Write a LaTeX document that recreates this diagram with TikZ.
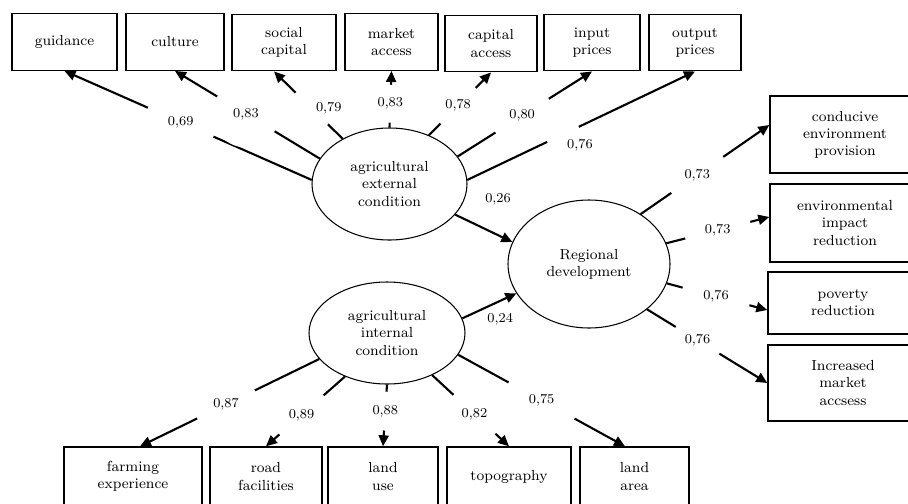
\documentclass[tikz,border=0pt]{standalone}
\usepackage{tikz}
\usetikzlibrary{arrows.meta}
\usetikzlibrary{shapes.geometric}

\newcommand{\boxfont}{\fontsize{8.3}{9.7}\selectfont}
\newcommand{\coeffont}{\fontsize{7.7}{9}\selectfont}

\tikzset{
  indicator/.style={draw, line width=0.8pt, rectangle, align=center, font=\boxfont, inner sep=1pt},
  latent/.style={draw, line width=0.6pt, ellipse, align=center, font=\boxfont, inner sep=0pt},
  loading/.style={line width=1.2pt, -{Triangle[length=2.2mm,width=2mm]}},
  gap/.style={circle, fill=white, inner sep=0pt, font=\coeffont},
  coef/.style={inner sep=1pt, font=\coeffont},
}

\begin{document}
\begin{tikzpicture}
\useasboundingbox (0,0) rectangle (18.16,10.06);
\clip (0,0) rectangle (18.16,10.06);

% latent variables
\node[latent, minimum width=3.10cm, minimum height=2.24cm] (ext) at (7.79,6.38) {agricultural\\external\\condition};
\node[latent, minimum width=3.12cm, minimum height=2.04cm] (int) at (7.74,3.40) {agricultural\\internal\\condition};
\node[latent, minimum width=3.24cm, minimum height=2.56cm] (reg) at (11.78,4.78) {Regional\\development};

% external indicators
\node[indicator, minimum width=2.10cm, minimum height=1.13cm] (guidance) at (1.29,9.22) {guidance};
\node[indicator, minimum width=1.96cm, minimum height=1.13cm] (culture) at (3.50,9.22) {culture};
\node[indicator, minimum width=2.08cm, minimum height=1.13cm] (social) at (5.68,9.21) {social\\capital};
\node[indicator, minimum width=1.86cm, minimum height=1.13cm] (market) at (7.83,9.22) {market\\access};
\node[indicator, minimum width=1.84cm, minimum height=1.13cm] (capital) at (9.82,9.19) {capital\\access};
\node[indicator, minimum width=1.92cm, minimum height=1.13cm] (input) at (11.84,9.21) {input\\prices};
\node[indicator, minimum width=1.84cm, minimum height=1.13cm] (output) at (13.90,9.21) {output\\prices};

% outcome indicators
\node[indicator, minimum width=3cm, minimum height=1.54cm] (conducive) at (16.90,7.37) {conducive\\environment\\provision};
\node[indicator, minimum width=3cm, minimum height=1.56cm] (impact) at (16.90,5.60) {environmental\\impact\\reduction};
\node[indicator, minimum width=3cm, minimum height=1.24cm] (poverty) at (16.86,4.00) {poverty\\reduction};
\node[indicator, minimum width=3cm, minimum height=1.52cm] (access) at (16.86,2.40) {Increased\\market\\accsess};

% internal indicators
\node[indicator, minimum width=2.76cm, minimum height=1.18cm] (farming) at (2.66,0.53) {farming\\experience};
\node[indicator, minimum width=2.24cm, minimum height=1.18cm] (road) at (5.32,0.53) {road\\facilities};
\node[indicator, minimum width=2.20cm, minimum height=1.18cm] (landuse) at (7.66,0.53) {land\\use};
\node[indicator, minimum width=2.48cm, minimum height=1.18cm] (topography) at (10.18,0.53) {topography};
\node[indicator, minimum width=2.18cm, minimum height=1.18cm] (landarea) at (12.69,0.53) {land\\area};

% loadings
\draw[loading] (ext.177) -- node[gap, pos=.53, minimum size=1.43cm] {0,69} (guidance.south);
\draw[loading] (ext.160) -- node[gap, pos=.51, minimum size=1.34cm] {0,83} (culture.south);
\draw[loading] (ext.136) -- node[gap, pos=.45, minimum size=.9cm] {} node[coef, pos=.45, xshift=.34cm] {0,79} ([xshift=-.2cm]social.south);
\draw[loading] (ext.90) -- node[gap, pos=.42, minimum size=.76cm] {0,83} (market.south);
\draw[loading] (ext.51) -- node[gap, pos=.47, minimum size=1cm] {0,78} (capital.south);
\draw[loading] (ext.22) -- node[gap, pos=.48, minimum size=1.26cm] {0,80} (input.south);
\draw[loading] (ext.3) -- node[gap, pos=.42, minimum size=.7cm] {} node[coef, pos=.42, xshift=.34cm, yshift=-.22cm] {0,76} (output.south);

\draw[loading] (reg.44) -- node[gap, pos=.44, minimum size=1.26cm] {0,73} ([yshift=.19cm]conducive.west);
\draw[loading] (reg.15) -- node[gap, pos=.5, minimum size=1.34cm] {0,73} ([yshift=.12cm]impact.west);
\draw[loading] (reg.-14) -- node[gap, pos=.49, minimum size=1.38cm] {0,76} ([yshift=-.14cm]poverty.west);
\draw[loading] (reg.-38) -- node[gap, pos=.42, minimum size=1.02cm] {0,76} (access.west);

\draw[loading] (int.201) -- node[gap, pos=.52, minimum size=1.28cm] {0,87} ([xshift=.14cm]farming.north);
\draw[loading] (int.226) -- node[gap, pos=.55, minimum size=1.18cm] {0,89} (road.north);
\draw[loading] (int.270) -- node[gap, pos=.43, minimum size=.78cm] {0,88} (landuse.north);
\draw[loading] (int.317) -- node[gap, pos=.55, minimum size=1.14cm] {0,82} (topography.north);
\draw[loading] (int.343) -- node[gap, pos=.5, minimum size=1.5cm] {0,75} ([xshift=-.19cm]landarea.north);

% structural paths
\draw[loading] (ext.-25) -- node[coef, pos=.75, above=.55cm] {0,26} (reg.164);
\draw[loading] (int.11) -- node[coef, pos=.7, below=.2cm] {0,24} (reg.202);
\end{tikzpicture}
\end{document}
